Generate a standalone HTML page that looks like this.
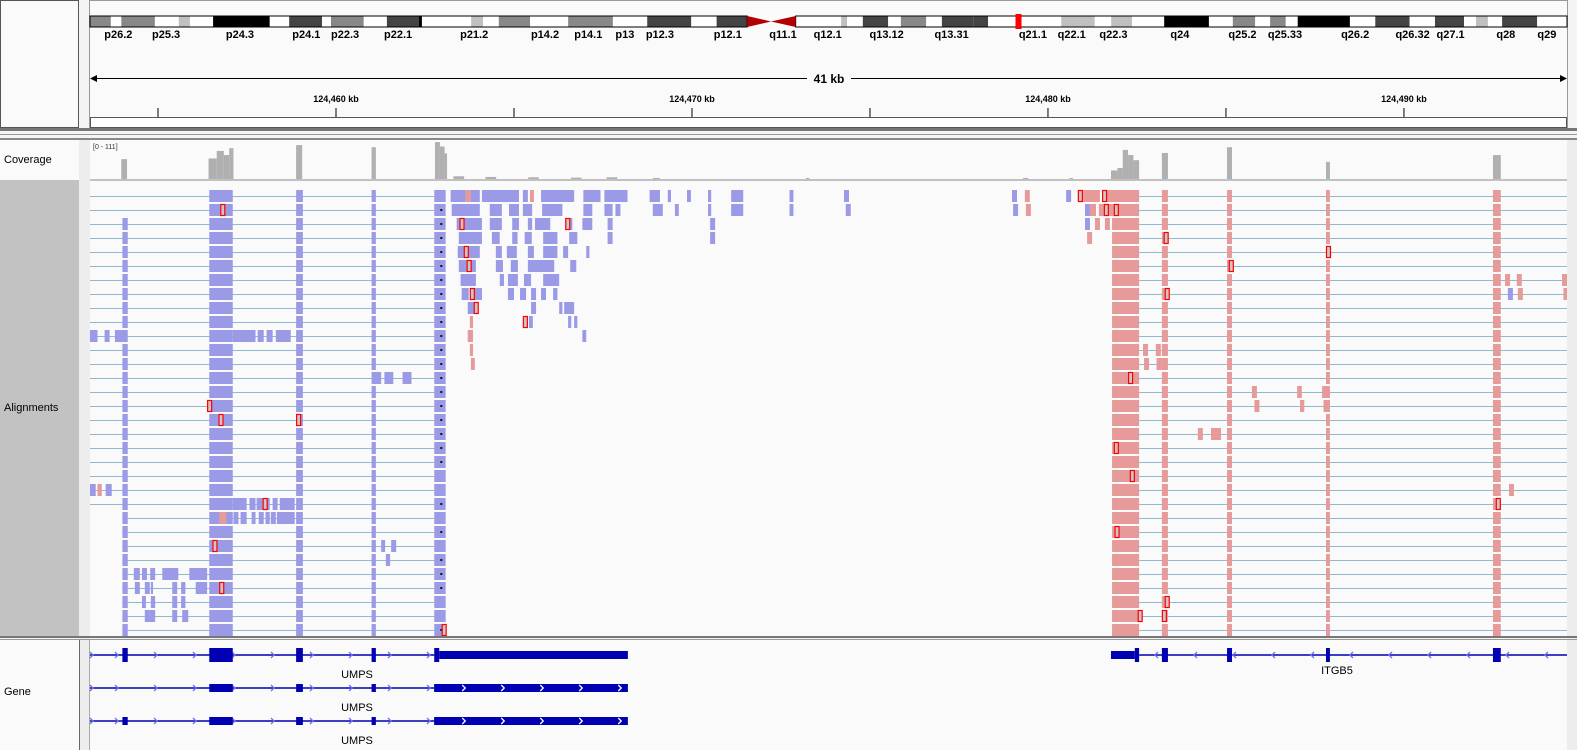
<!DOCTYPE html>
<html><head><meta charset="utf-8"><style>
html,body{margin:0;padding:0;background:#f3f3f3;}
svg{display:block;font-family:"Liberation Sans",sans-serif;}
</style></head><body>
<svg id="igv" width="1577" height="750" viewBox="0 0 1577 750" xmlns="http://www.w3.org/2000/svg">
<rect x="0" y="0" width="1577" height="750" fill="#f4f4f4"/>
<rect x="0.5" y="0.5" width="78" height="127" fill="#fafafa" stroke="#555"/>
<rect x="89.5" y="0.5" width="1478" height="127" fill="#fafafa" stroke="#999"/>
<g id="ideo"></g>
<g id="ruler"></g>
<rect x="0" y="128" width="1577" height="3" fill="#777"/>
<rect x="0" y="134" width="1577" height="1" fill="#999"/>
<rect x="0" y="138" width="1577" height="2" fill="#888"/>
<rect x="0" y="140" width="79" height="496" fill="#fafafa"/>
<rect x="0" y="180" width="79" height="456" fill="#c2c2c2"/>
<rect x="79" y="140" width="11" height="610" fill="#ededed"/>
<rect x="90" y="140" width="1477" height="496" fill="#fafafa"/>
<rect x="1567" y="140" width="10" height="610" fill="#ededed"/>
<text x="4" y="163" font-size="11" fill="#000">Coverage</text>
<text x="4" y="411" font-size="11" fill="#000">Alignments</text>
<line x1="90" y1="180" x2="1567" y2="180" stroke="#888"/>
<g id="cov"></g>
<text x="93" y="149" font-size="7" fill="#333">[0 - 111]</text>
<g id="aln"></g>
<rect x="0" y="636" width="1577" height="2" fill="#777"/>
<rect x="0" y="639" width="1577" height="1" fill="#999"/>
<rect x="0" y="640" width="79" height="110" fill="#fafafa"/>
<rect x="90" y="640" width="1477" height="110" fill="#fafafa"/>
<line x1="79.5" y1="640" x2="79.5" y2="750" stroke="#666"/>
<line x1="89.5" y1="640" x2="89.5" y2="750" stroke="#aaa"/>
<text x="4" y="695" font-size="11" fill="#000">Gene</text>
<g id="gene"></g>
</svg>
<script>
const BASE_KB = 124460;
const viewStartKb = -6.91, viewEndKb = 34.58;
const bandStart = [0,2.8,4.2,8.7,11.9,13.4,16.5,24.1,26.7,31.1,32.3,36.7,39.8,44.1,44.5,51.1,52.7,54.8,59.0,64.1,70.1,74.7,80.6,84.0,94.6,99.1,100.7,101.5,103.6,107.0,108.7,112.1,114.2,118.4,120.4,130.2,134.7,136.9,139.7,144.0,150.0,153.2,156.2,158.2,160.3,161.9,168.9,172.3,176.9,180.3,184.2,185.8,187.4,189.3,194.0];
const bandEnd   = [2.8,4.2,8.7,11.9,13.4,16.5,24.1,26.7,31.1,32.3,36.7,39.8,44.1,44.5,51.1,52.7,54.8,59.0,64.1,70.1,74.7,80.6,84.0,88.1,99.1,100.7,101.5,103.6,107.0,108.7,112.1,114.2,118.4,120.4,130.2,134.7,136.9,139.7,144.0,150.0,153.2,156.2,158.2,160.3,161.9,168.9,172.3,176.9,180.3,184.2,185.8,187.4,189.3,194.0,198.0];
const bandStain = ["g50","w","g50","w","g25","w","g100","w","g75","w","g50","w","g75","g100","w","g25","w","g50","w","g50","w","g75","w","g75","w","w","g25","w","g75","w","g50","w","g75","g75","w","g25","w","g25","w","g100","w","g50","w","g50","w","g100","w","g75","w","g75","w","g25","w","g75","w"];
const centroStart = 88.1, centroMid = 91.3, centroEnd = 94.6, chromEnd = 198.0;
const bandLabels = ["p26.2","p25.3","p24.3","p24.1","p22.3","p22.1","p21.2","p14.2","p14.1","p13","p12.3","p12.1","q11.1","q12.1","q13.12","q13.31","q21.1","q22.1","q22.3","q24","q25.2","q25.33","q26.2","q26.32","q27.1","q28","q29"];
const bandLabelMb = [3.8,10.2,20.1,29.0,34.2,41.3,51.5,61.0,66.8,71.7,76.4,85.5,92.9,98.9,106.8,115.5,126.4,131.6,137.2,146.1,154.5,160.2,169.6,177.3,182.4,189.8,195.3];
const currentMb = 124.47;
const tickKb = [-5,0,5,10,15,20,25,30];
const tickLabelKb = [0,10,20,30];
const tickLabels = ["124,460 kb","124,470 kb","124,480 kb","124,490 kb"];
const covStart = [-6.03,-3.58,-3.35,-3.15,-3.0,-1.12,1.0,2.78,2.92,3.05,3.3,4.2,5.4,6.6,7.6,8.9,21.77,21.95,22.1,22.25,22.4,23.2,25.03,27.81,32.5,13.2,19.3,20.6];
const covEnd   = [-5.87,-3.35,-3.15,-3.0,-2.88,-0.95,1.12,2.92,3.05,3.12,3.6,4.5,5.7,6.9,7.9,9.1,21.95,22.1,22.25,22.4,22.56,23.37,25.17,27.92,32.72,13.3,19.45,20.7];
const covDepth = [58,60,82,70,90,99,93,108,95,75,8,6,5,4,5,3,25,32,85,70,55,76,93,50,70,3,3,3];
const umpsExonStart = [-6.0,-3.56,-1.12,1.0,2.76];
const umpsExonEnd   = [-5.85,-2.9,-0.93,1.12,2.9];
const umpsUtrEnd = 8.2;
const umpsReadExonEnd = [-5.85,-2.9,-0.93,1.12,3.08];
const itgbExonStart = [22.44,23.2,25.03,27.81,32.5];
const itgbExonEnd   = [22.56,23.37,25.17,27.92,32.72];
const itgbUtrStart = 21.77;
const rowCount = 32;
const umpsLineStartRow = 23;
const readRow   = [0,0,0,0,0,0,0,0,0,0,0,0,0,0,0,0, 1,1,1,1,1,1,1,1,1,1,1,1,1,1, 2,2,2,2,2,2,2,2,2, 3,3,3,3,3,3,3,3, 4,4,4,4,4,4,4, 5,5,5,5,5, 6,6,6,6,6, 7,7,7,7,7,7,7, 8,8,8,8, 9,9,9,9, 10,10, 11,12, 13,13,13, 10,10,10,10,10,10,10, 21,21,21, 22,22,22,22,22,22, 23,23,23,23,23,23,23,23, 27,27,27,27,27, 28,28,28,28,28,28, 29,29,29,29, 30,30,30,30, 25,25,26,
  0,0,0,0,0,0, 1,1,1,1,1,1,1, 2,2,2, 3, 6,6,6, 7,7,7, 14,14,14, 15,15,15, 17,17, 21, 11,11, 12,12];
const readStart = [3.22,3.64,3.79,4.10,5.25,5.45,5.76,6.95,7.54,8.81,9.32,9.86,10.45,11.10,12.74,14.27, 3.25,4.32,4.86,5.25,5.79,6.95,7.54,7.85,8.90,9.52,10.45,11.10,12.74,14.32, 3.39,4.32,4.95,5.39,5.59,6.44,6.92,7.63,10.51, 3.45,4.38,4.95,5.30,5.82,6.55,7.63,10.51, 3.42,4.49,4.80,5.39,5.82,6.38,7.03, 3.45,4.49,4.91,5.39,6.58, 3.50,4.60,4.83,5.28,5.82, 3.53,3.79,4.83,5.17,5.48,5.76,6.10, 3.70,5.48,6.27,6.41, 3.76,5.42,6.52,6.69, 3.70,6.92, 3.76,3.79, 1.02,1.36,1.87, -6.91,-6.50,-6.21,-2.90,-2.20,-1.95,-1.69, -6.91,-6.70,-6.47, -2.90,-2.43,-2.23,-1.98,-1.78,-1.58, -3.28,-2.88,-2.68,-2.37,-2.17,-1.98,-1.83,-1.66, -5.68,-5.45,-5.22,-4.88,-4.12, -5.65,-5.37,-5.20,-4.60,-4.35,-3.94, -5.45,-5.20,-4.60,-4.35, -5.37,-5.25,-4.60,-4.32, 1.27,1.55,1.40,
  18.99,19.35,20.51,20.84,21.01,21.52, 19.02,19.38,21.04,21.18,21.43,21.57,21.85, 21.04,21.32,21.60, 21.10, 32.84,33.17,34.44, 32.92,33.20,34.48, 25.73,27.0,27.70, 25.80,27.08,27.74, 24.21,24.58, 32.95, 22.67,23.03, 22.70,23.05];
const readEnd = [3.64,3.79,4.04,5.14,5.39,5.56,6.69,7.43,8.19,9.10,9.41,9.97,10.54,11.44,12.85,14.41, 4.04,4.66,5.14,5.51,6.36,7.20,7.77,7.99,9.18,9.63,10.54,11.44,12.85,14.46, 4.10,4.66,5.14,5.51,6.02,6.64,7.20,7.77,10.65, 4.10,4.60,5.10,5.50,6.22,6.78,7.77,10.65, 4.04,4.66,5.08,5.56,6.22,6.52,7.12, 3.93,4.69,5.11,6.13,6.75, 3.93,4.72,5.11,5.48,6.27, 3.73,4.10,5.00,5.34,5.62,5.90,6.22, 3.99,5.62,6.36,6.69, 3.85,5.53,6.61,6.78, 3.85,7.03, 3.85,3.90, 1.27,1.61,2.12, -6.70,-6.36,-5.93,-2.26,-2.03,-1.78,-1.27, -6.75,-6.58,-6.30, -2.51,-2.26,-2.05,-1.86,-1.64,-1.16, -3.08,-2.74,-2.51,-2.26,-2.03,-1.86,-1.69,-1.16, -5.51,-5.31,-5.08,-4.43,-3.62, -5.51,-5.23,-5.14,-4.46,-4.23,-3.62, -5.34,-5.08,-4.46,-4.23, -5.25,-5.08,-4.46,-4.15, 1.38,1.69,1.52,
  19.13,19.49,20.65,21.01,21.46,21.66, 19.16,19.52,21.18,21.35,21.57,21.74,22.0, 21.18,21.46,21.74, 21.24, 32.98,33.31,34.58, 33.06,33.34,34.58, 25.87,27.13,27.92, 25.94,27.20,27.92, 24.35,24.86, 33.09, 22.81,23.17, 22.84,23.20];
const readStrand = ["f","r","f","f","f","r","f","f","f","f","f","f","f","f","f","f", "f","f","f","f","f","f","f","f","f","f","f","f","f","f", "f","f","f","f","f","f","f","f","f", "f","f","f","f","f","f","f","f", "f","f","f","f","f","f","f", "f","f","f","f","f", "f","f","f","f","f", "f","f","f","f","f","f","f", "f","f","f","f", "r","f","f","f", "r","f", "r","r", "f","f","f", "f","f","f","f","f","f","f", "f","r","f", "f","f","f","f","f","f", "r","f","f","f","f","f","f","f", "f","f","f","f","f", "f","f","f","f","f","f", "f","f","f","f", "f","f","f","f", "f","f","f",
  "f","r","f","r","r","r", "f","r","f","r","r","r","r", "f","r","r", "r", "r","r","r", "f","r","r", "r","r","r", "r","r","r", "r","r", "r", "r","r", "r","r"];
const mmRow = [1,2,2,4,5,7,8,9,15,16,16,22,25,28,31, 0,0,1,1,3,5,7,13,18,20,22,24,29,30,30,4];
const mmKb  = [-3.25,3.47,6.44,3.59,3.67,3.76,3.87,5.25,-3.62,-3.30,-1.12,-2.06,-3.47,-3.28,2.97, 20.84,21.52,21.57,21.85,23.25,25.08,23.28,22.25,21.85,22.30,32.58,21.87,23.28,22.52,23.20,27.81];
const dotRows = [1,2,3,4,5,6,7,8,9,10,11,12,13,14,15,16,17,18,19,22,24,26,27,28,31];

const DX0 = 90, DX1 = 1567;
const xk = kb => DX0 + (kb - viewStartKb) * (DX1 - DX0) / (viewEndKb - viewStartKb);
const xm = mb => DX0 + mb * (DX1 - DX0) / chromEnd;
const rowY = r => 190 + r * 14;
const covY = d => 179 - d / 111 * 38;
const NS = "http://www.w3.org/2000/svg";
function mk(parent, tag, attrs){ const e = document.createElementNS(NS, tag); for (const k in attrs) e.setAttribute(k, attrs[k]); parent.appendChild(e); return e; }

const ideo = document.getElementById('ideo');
const stainColor = {w:"#ffffff",g25:"#c0c0c0",g50:"#888888",g75:"#444444",g100:"#000000"};
bandStart.forEach((s,i)=>{
  const r = mk(ideo,'rect',{x:xm(s),y:16,width:xm(bandEnd[i])-xm(s),height:11,fill:stainColor[bandStain[i]]});
  
  
});
mk(ideo,'rect',{x:xm(0),y:16,width:xm(centroStart)-xm(0),height:11,fill:"none",stroke:"#000","stroke-width":1});
mk(ideo,'rect',{x:xm(centroEnd),y:16,width:xm(chromEnd)-xm(centroEnd),height:11,fill:"none",stroke:"#000","stroke-width":1});
const cen = mk(ideo,'polygon',{points:`${xm(centroStart)},16 ${xm(centroMid)},21.5 ${xm(centroEnd)},16 ${xm(centroEnd)},27 ${xm(centroMid)},21.5 ${xm(centroStart)},27`,fill:"#b30000"});


const cur = mk(ideo,'rect',{x:xm(currentMb)-3,y:14,width:6,height:15,fill:"#ff0000"});


bandLabels.forEach((t,i)=>{
  const e = mk(ideo,'text',{x:xm(bandLabelMb[i]),y:38,"font-size":11,"font-weight":"bold","text-anchor":"middle",fill:"#000"});
  e.textContent = t;
  
  
});
const ruler = document.getElementById('ruler');
mk(ruler,'line',{x1:92,y1:78.5,x2:1565,y2:78.5,stroke:"#000"});
mk(ruler,'polygon',{points:"90,78.5 97,75 97,82",fill:"#000"});
mk(ruler,'polygon',{points:"1567,78.5 1560,75 1560,82",fill:"#000"});
mk(ruler,'rect',{x:807,y:70,width:44,height:16,fill:"#fafafa"});
const span = mk(ruler,'text',{x:829,y:83,"font-size":12,"font-weight":"bold","text-anchor":"middle"});
span.textContent = "41 kb";


tickKb.forEach(k=>{
  const t = mk(ruler,'line',{x1:xk(k),y1:108,x2:xk(k),y2:117,stroke:"#000"});
  
  
});
tickLabelKb.forEach((k,i)=>{
  const t = mk(ruler,'text',{x:xk(k),y:102,"font-size":9,"font-weight":"bold","text-anchor":"middle"});
  t.textContent = tickLabels[i];
  
  
});
mk(ruler,'line',{x1:90,y1:117.5,x2:1567,y2:117.5,stroke:"#000"});
mk(ruler,'rect',{x:90.5,y:117.5,width:1476,height:10,fill:"#fff",stroke:"#555"});

const cov = document.getElementById('cov');
covStart.forEach((s,i)=>{
  const y = covY(covDepth[i]);
  const b = mk(cov,'rect',{x:xk(s),y:y,width:Math.max(1,xk(covEnd[i])-xk(s)),height:179-y,fill:"#b0b0b0"});
  
  
});

const aln = document.getElementById('aln');
const BLUE="#9a9ae6", PINK="#e79a9a", LINE="#8fb9cf";
function read(r,s,e,col){
  const b = mk(aln,'rect',{x:xk(s),y:rowY(r),width:Math.max(2,xk(e)-xk(s)),height:12,fill:col});
  
  
}
for(let r=0;r<rowCount;r++){
  const y = rowY(r)+6.5;
  const ls = r>=umpsLineStartRow ? umpsExonStart[0] : viewStartKb;
  mk(aln,'line',{x1:xk(ls),y1:y,x2:xk(umpsExonStart[4]),y2:y,stroke:LINE});
  umpsExonStart.forEach((s,i)=>{ if(i===0 && r<2) return; read(r,s,umpsReadExonEnd[i],BLUE); });
  mk(aln,'line',{x1:xk(itgbExonEnd[0]),y1:y,x2:xk(viewEndKb),y2:y,stroke:LINE});
  read(r, r<2?21.65:itgbUtrStart+0.03, itgbExonEnd[0], PINK);
  itgbExonStart.forEach((s,i)=>{ if(i>0) read(r,s,itgbExonEnd[i],PINK); });
}
readRow.forEach((r,i)=>{ read(r,readStart[i],readEnd[i],readStrand[i]==="f"?BLUE:PINK); });
dotRows.forEach(r=>{
  const d = mk(aln,'rect',{x:xk(2.93),y:rowY(r)+5,width:2,height:2,fill:"#111"});
  
  
});
mmRow.forEach((r,i)=>{
  const m = mk(aln,'rect',{x:xk(mmKb[i])+0.5,y:rowY(r)+0.5,width:4,height:11,fill:"#c8c8c8",stroke:"#ff0000","stroke-width":1.2});
  
  
});

const gene = document.getElementById('gene');
const GC = "#0000b2", CHEV="#6f6ff0";
function chevrons(x0,x1,y,dir,col){
  for(let x=x0;x<x1;x+=39){
    const c = mk(gene,'polyline',{points: dir>0?`${x-2},${y-3} ${x+1},${y} ${x-2},${y+3}`:`${x+2},${y-3} ${x-1},${y} ${x+2},${y+3}`,fill:"none",stroke:col,"stroke-width":1.3});
    
    
  }
}
const umpsLines = [655,688,721];
const umpsLabelY = [678,711,744];
umpsLines.forEach((y,g)=>{
  const l = mk(gene,'line',{x1:90,y1:y,x2:xk(umpsExonStart[4]),y2:y,stroke:GC,"stroke-width":1.5});
  
  
  chevrons(117,xk(umpsExonStart[4]),y,1,CHEV);
  chevrons(92,110,y,1,CHEV);
  umpsExonStart.forEach((s,i)=>{
    if(g===1 && i===0) return;
    const h = g===0?14:8;
    const e = mk(gene,'rect',{x:xk(s),y:y-h/2,width:xk(umpsExonEnd[i])-xk(s),height:h,fill:GC});
    
    
  });
  const utrS = g===0 ? umpsExonEnd[4] : umpsExonStart[4];
  const u = mk(gene,'rect',{x:xk(utrS),y:y-4,width:xk(umpsUtrEnd)-xk(utrS),height:8,fill:GC});
  
  
  if(g>0) chevrons(xk(umpsExonStart[4])+30,xk(umpsUtrEnd)-5,y,1,"#ffffff");
  const t = mk(gene,'text',{x:357,y:umpsLabelY[g],"font-size":11,"text-anchor":"middle",fill:"#000"});
  t.textContent = "UMPS";
  
  
});
const iy = 655;
const il = mk(gene,'line',{x1:xk(itgbExonEnd[0]),y1:iy,x2:1567,y2:iy,stroke:GC,"stroke-width":1.5});


chevrons(1156,1567,iy,-1,CHEV);
const iu = mk(gene,'rect',{x:xk(itgbUtrStart),y:iy-4,width:xk(itgbExonStart[0])-xk(itgbUtrStart),height:8,fill:GC});


itgbExonStart.forEach((s,i)=>{
  const e = mk(gene,'rect',{x:xk(s),y:iy-7,width:xk(itgbExonEnd[i])-xk(s),height:14,fill:GC});
  
  
});
const it = mk(gene,'text',{x:1337,y:674,"font-size":11,"text-anchor":"middle",fill:"#000"});
it.textContent = "ITGB5";


</script>
</body></html>
